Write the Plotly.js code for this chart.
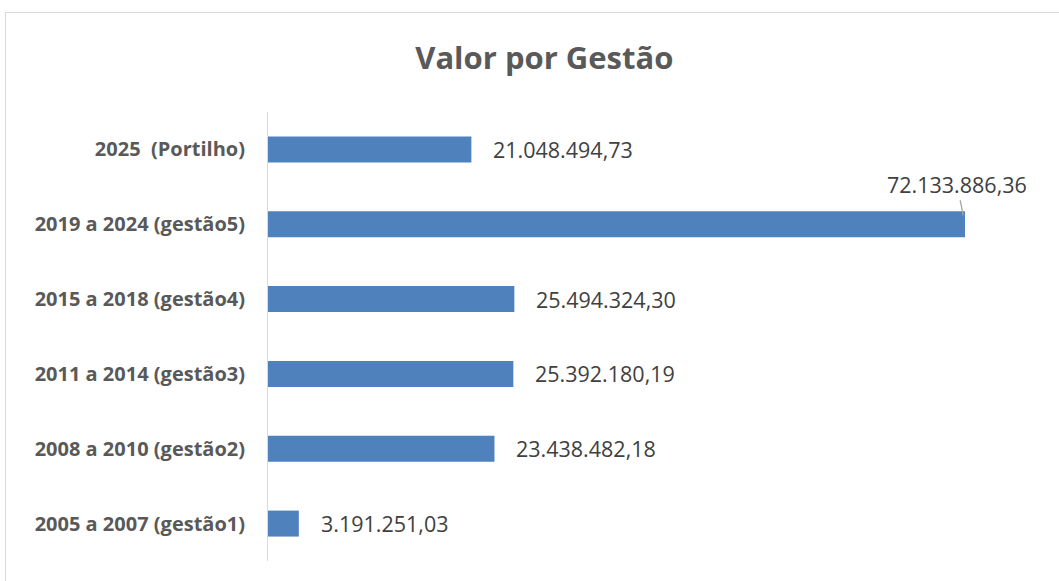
<!DOCTYPE html>
<html>
<head>
<meta charset="utf-8">
<script src="https://cdn.plot.ly/plotly-3.0.1.min.js"></script>
<style>
html,body{margin:0;padding:0;background:#fff;overflow:hidden;}
#frame{position:absolute;left:5px;top:12px;width:1200px;height:700px;border:1px solid #d9d9d9;box-sizing:border-box;}
#chart{position:absolute;left:0;top:0;width:1059px;height:581px;}
</style>
</head>
<body>
<div id="frame"></div>
<div id="chart"></div>
<script>
const categories = [
  "2005 a 2007 (gestão1)",
  "2008 a 2010 (gestão2)",
  "2011 a 2014 (gestão3)",
  "2015 a 2018 (gestão4)",
  "2019 a 2024 (gestão5)",
  "2025\u00a0 (Portilho)"
];
const values = [3191251.03, 23438482.18, 25392180.19, 25494324.30, 72133886.36, 21048494.73];

function fmtBR(v){
  const parts = v.toFixed(2).split(".");
  const intp = parts[0].replace(/\B(?=(\d{3})+(?!\d))/g, ".");
  return intp + "," + parts[1];
}
const labels = values.map(fmtBR);

const labelFont = {family: "Open Sans, Lato, sans-serif", size: 21.5, color: "#404040"};

const annotations = values.map((v, i) => {
  if (i === 4) {
    return {x: v, y: categories[i], xref: "x", yref: "y", text: labels[i],
      showarrow: true, arrowhead: 0, arrowwidth: 1.3, arrowcolor: "#a6a6a6",
      ax: -8, ay: -40, standoff: 9, font: labelFont};
  }
  return {x: v, y: categories[i], xref: "x", yref: "y", text: labels[i],
    showarrow: false, xanchor: "left", yanchor: "middle", xshift: 20, font: labelFont};
});

const trace = {
  type: "bar",
  orientation: "h",
  x: values,
  y: categories,
  marker: {color: "#4f81bd"},
  hoverinfo: "none"
};

const layout = {
  width: 1059, height: 581,
  margin: {l: 268, r: 18, t: 112, b: 20, pad: 0},
  paper_bgcolor: "rgba(0,0,0,0)",
  plot_bgcolor: "rgba(0,0,0,0)",
  bargap: 0.653,
  showlegend: false,
  title: {text: "<b>Valor por Gestão</b>", x: 0.514, xanchor: "center", y: 0.9, yanchor: "middle",
    font: {family: "Open Sans, Lato, sans-serif", size: 31, color: "#595959"}},
  xaxis: {range: [0, 80000000], visible: false, fixedrange: true},
  yaxis: {type: "category", showline: true, linecolor: "#d9d9d9", linewidth: 1,
    ticks: "", ticklabelstandoff: 18, showgrid: false, zeroline: false,
    tickfont: {family: "Open Sans, Lato, sans-serif", size: 20, color: "#595959", weight: "bold"}},
  annotations: annotations
};

Plotly.newPlot("chart", [trace], layout, {staticPlot: true, displayModeBar: false});
</script>
</body>
</html>
